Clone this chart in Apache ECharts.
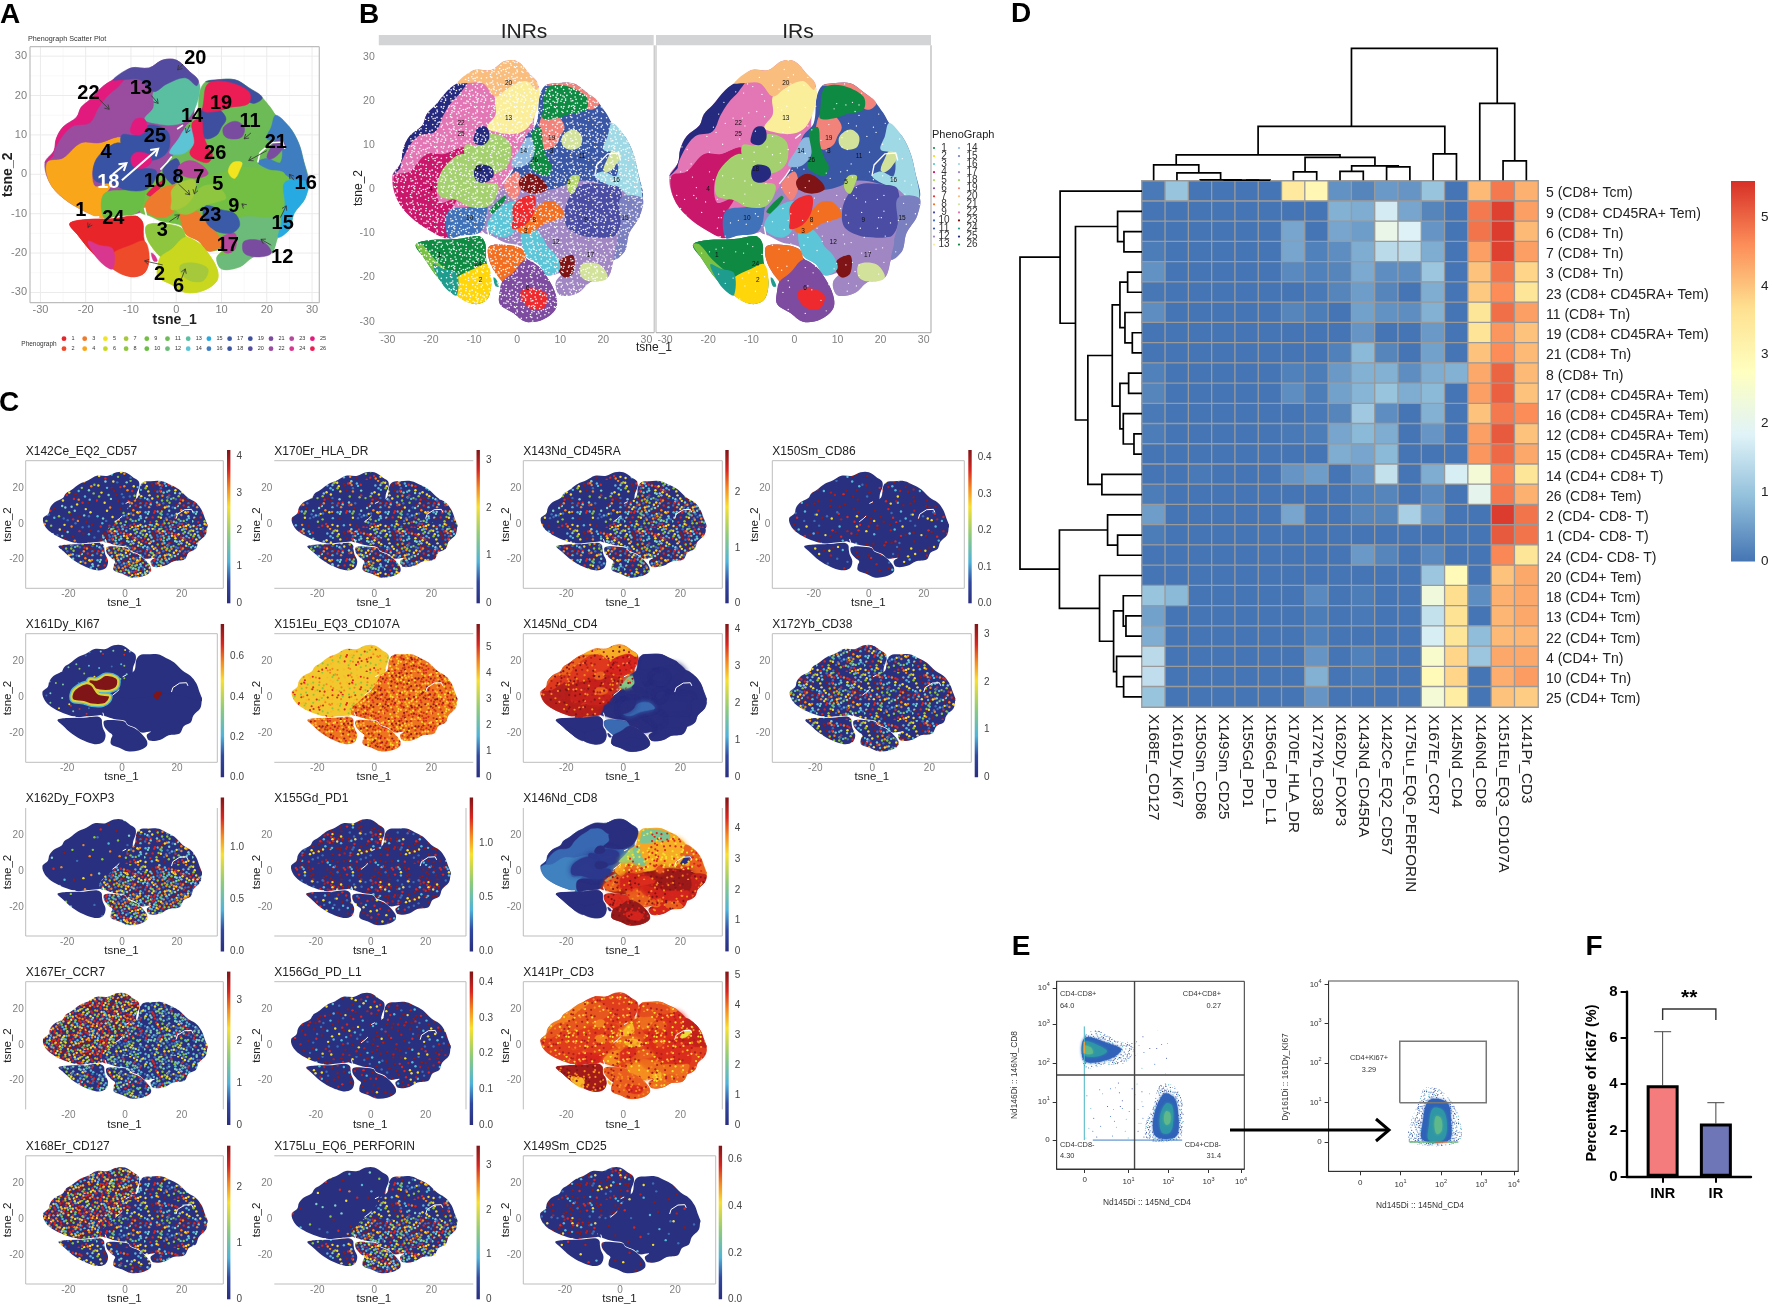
<!DOCTYPE html>
<html><head><meta charset="utf-8">
<style>html,body{margin:0;padding:0;background:#fff}#c{width:1772px;height:1307px}</style>
<script src="https://cdn.jsdelivr.net/npm/echarts@6/dist/echarts.min.js"></script>
</head><body><div id="c"></div>
<script>
// ---------- D: heatmap values
const markers=['X168Er_CD127','X161Dy_KI67','X150Sm_CD86','X149Sm_CD25','X155Gd_PD1','X156Gd_PD_L1','X170Er_HLA_DR','X172Yb_CD38','X162Dy_FOXP3','X143Nd_CD45RA','X142Ce_EQ2_CD57','X175Lu_EQ6_PERFORIN','X167Er_CCR7','X145Nd_CD4','X146Nd_CD8','X151Eu_EQ3_CD107A','X141Pr_CD3'];
const clusterIds=[5,9,6,7,3,23,11,19,21,8,17,16,12,15,14,26,2,1,24,20,18,13,22,4,10,25];
const rowLabels=['5 (CD8+ Tcm)','9 (CD8+ CD45RA+ Tem)','6 (CD8+ Tn)','7 (CD8+ Tn)','3 (CD8+ Tn)','23 (CD8+ CD45RA+ Tem)','11 (CD8+ Tn)','19 (CD8+ CD45RA+ Tem)','21 (CD8+ Tn)','8 (CD8+ Tn)','17 (CD8+ CD45RA+ Tem)','16 (CD8+ CD45RA+ Tem)','12 (CD8+ CD45RA+ Tem)','15 (CD8+ CD45RA+ Tem)','14 (CD4+ CD8+ T)','26 (CD8+ Tem)','2 (CD4- CD8- T)','1 (CD4- CD8- T)','24 (CD4- CD8- T)','20 (CD4+ Tem)','18 (CD4+ Tcm)','13 (CD4+ Tcm)','22 (CD4+ Tcm)','4 (CD4+ Tn)','10 (CD4+ Tn)','25 (CD4+ Tcm)'];
const heatRows=[
[.05,1.0,0,0,0,0,3.4,3.0,.35,.2,.45,.4,1.0,0,4.1,4.8,4.2],
[0,0,0,0,0,0,0,0,.75,.7,1.7,.6,.2,0,4.8,5.35,4.4],
[0,0,0,0,0,0,.6,0,.6,.5,2.1,1.8,.4,0,4.85,5.4,4.1],
[.1,0,0,0,0,0,.6,.15,.3,.7,1.4,1.4,.7,0,4.4,5.35,4.4],
[.35,0,0,0,0,0,.25,.15,.2,.65,.3,.3,1.05,0,4.0,4.85,3.8],
[.02,0,0,0,0,0,0,.05,.2,.5,.2,0,.7,0,3.95,4.6,3.5],
[.3,0,0,0,0,0,.2,.1,0,.55,.35,.3,.75,0,3.5,4.9,4.4],
[0,0,0,0,0,0,0,0,0,.4,0,0,.45,0,3.55,4.5,4.0],
[0,0,0,0,0,0,0,0,.15,.85,.2,0,.55,0,4.0,4.6,4.1],
[.15,0,0,0,0,0,.15,.1,.45,.75,.75,.3,.7,.75,4.3,5.0,4.1],
[.2,0,0,0,0,0,.3,.1,.55,.8,1.0,.7,.85,0,4.4,5.05,4.0],
[.05,0,0,0,0,0,0,.05,.2,1.1,.3,0,.75,0,4.0,4.8,4.6],
[.1,0,0,0,0,0,.05,.1,.6,.85,.7,0,.4,0,4.4,5.1,4.0],
[0,0,0,0,0,0,0,0,.7,.6,.85,0,0,0,4.5,4.95,4.3],
[0,0,.05,0,0,0,.4,.5,0,.4,1.5,0,.7,1.75,2.4,4.7,3.5],
[.1,0,0,0,0,0,0,0,0,.15,.2,0,.25,0,2.0,4.8,4.2],
[.5,0,0,0,0,0,.6,0,0,.2,.2,1.2,.4,0,0,5.4,4.85],
[.1,0,0,0,0,0,0,0,0,0,0,0,0,0,0,5.1,4.85],
[0,0,0,0,0,0,0,0,0,.45,.2,0,.25,0,0,4.65,3.5],
[0,0,0,0,0,0,0,0,0,0,0,0,1.05,2.9,0,4.0,4.3],
[1.0,.85,0,0,0,0,0,.25,0,.1,0,0,2.3,3.7,.3,4.2,4.3],
[.55,0,0,0,0,0,0,.1,0,.05,0,0,1.5,3.6,0,4.15,4.3],
[.7,0,0,0,0,0,0,.15,0,0,0,0,1.75,3.5,.9,4.1,4.15],
[1.4,0,0,0,0,0,0,.4,0,.15,.05,0,2.55,3.8,1.05,4.3,4.3],
[1.45,0,0,0,0,0,0,.75,0,.1,0,0,2.9,3.8,0,4.25,4.45],
[1.0,0,0,0,0,0,0,.4,0,0,0,0,2.4,3.3,0,4.0,3.9]];
// dendrograms: [a,b,height]; negative = leaf number, positive = earlier merge number
const colMerges=[[-7,-8,25],[-9,-10,27],[-11,-12,40],[2,3,43],[1,4,69],[-5,-6,.3],[-4,6,.6],[-3,7,1],[-2,8,22],[-1,9,46],[10,5,76],[-13,-14,79],[11,12,162],[-16,-17,58],[-15,14,231],[13,15,396]];
const rowMerges=[[-3,-4,54],[-2,1,73],[-5,-6,43],[-8,-9,29],[-7,4,51],[3,5,66],[-10,-11,40],[-13,-14,24],[-12,8,56],[7,9,66],[6,10,89],[-15,-16,120],[11,12,162],[2,13,199],[-1,14,245],[-18,-19,73],[-17,16,103],[-22,-23,48],[-21,18,56],[-25,-26,55],[-24,20,76],[19,21,85],[-20,22,127],[17,23,247],[15,24,365]];

// ---------- A/B: t-SNE cluster outlines, in tsne_1 / tsne_2 units
const lobes={
 left:[[-29,3],[-27,6],[-26.5,9],[-25,12],[-22,14.5],[-21,17],[-19,19],[-16,22.5],[-13,24.5],[-10,27],[-6,27],[-3,29],[0,29],[3,26],[4.8,24],[5,21],[4,16.5],[3.8,11.5],[3,8],[1,5],[-1,3],[-3,0],[-5,-3],[-6.5,-6],[-7,-9],[-9,-10],[-13,-10.5],[-16,-11],[-20,-9.5],[-25,-6],[-28,-2]],
 rightLow:[[-8,-9.5],[-8,-6],[-6,-3],[-3.5,.5],[-1,4],[8,2],[15,3.5],[24,2],[28.9,0],[29,-2],[28.5,-6],[26,-10],[25,-14],[22.5,-16],[21,-20],[17,-21],[14,-23.5],[10,-24],[9,-21],[10.5,-19],[7,-19.5],[5,-17],[2,-15],[1,-13],[-3,-12],[-6,-10.5]],
 rightUp:[[-2,2.5],[0,6],[2,12],[4.5,15],[5.2,21],[6.5,23.5],[9,24],[13,24],[16,22],[19,19.5],[22,15],[25,12],[27,8],[28,4],[29,-2],[24,0],[15,2],[8,0],[0,0]],
 centre:[[-6.5,-13],[-3,-12.6],[1,-13.5],[2,-15.5],[5,-17.5],[7,-20],[9,-24],[9,-27],[6,-29.5],[2,-30],[-1,-28],[-4,-26],[-4,-23],[-3.5,-21],[-5,-19],[-6.5,-16]],
 low:[[-23.5,-12.5],[-20,-11.5],[-14,-11.3],[-9,-10.6],[-7.5,-12],[-7.3,-14.5],[-7,-17],[-6,-21],[-7,-25],[-10,-26],[-14,-24],[-18,-20.5],[-22,-15]]
};
const shapes={
 c4:[[-28.5,3],[-25,4],[-21,8],[-17,8],[-13,9.5],[-11,9],[-10,8],[-14,4],[-18,3],[-18,-3],[-14,-2],[-16,-6],[-16,-11],[-20,-9.5],[-25,-6],[-28,-2]],
 c10:[[-16,-5],[-11,-4],[-7,-3.5],[-7,-5],[-7.5,-8],[-9,-10],[-13,-10.5],[-16,-11]],
 c25a:[[-29,3],[-27,6],[-26.5,9],[-25,12],[-22,14.5],[-21,17],[-19,19],[-16,22.5],[-13,24.5],[-11,25],[-13,22],[-16,18],[-19,13],[-23,11],[-26,6]],
 c22:[[-27,4.5],[-26,8],[-23,12],[-19,13],[-17,17],[-14,21],[-9,24],[-5,20],[-4.5,15],[-6,12.5],[-10,9.5],[-13,9.5],[-17,8],[-21,8],[-25,4.5]],
 c13:[[-5,21],[-2,23],[2,25],[5,23],[5,20],[4,16.5],[2,13.5],[-1,12.5],[-5,13],[-7,14],[-5,17]],
 c20:[[-14,24],[-10,27],[-6,27],[-3,29],[0,29],[3,26],[4.8,24],[4.5,22.5],[2,24.5],[-2,23],[-5,21],[-8,24],[-12,24]],
 c18a:[[-12,10],[-9,10],[-6,12.5],[-2,11],[-1.5,7],[-3,4.5],[-6,3.5],[-10,4.5],[-12,7]],
 c18b:[[-18,3],[-16,6],[-13,8],[-11,7],[-8.5,2],[-4.5,1],[-5,-2],[-7,-4],[-11,-4],[-14,-2.5],[-18,-1.5]],
 c25b:[[-10,12],[-9,14],[-7,14],[-6.5,11.5],[-8,10],[-10,10.5]],
 c25c:[[-10,4],[-9,5.5],[-6,5],[-5.5,3],[-7.5,1.5],[-9.5,2]],
 c14:[[-1.5,5.5],[.5,9],[2,11.5],[3.8,11.5],[4,8],[2,5.5],[0,5]],
 c11:[[13,17.5],[17,19],[20,18],[22,14],[21,11],[18,9],[17,6],[15,3],[12,3],[10,5],[8,7],[10,10],[10,14]],
 c19a:[[6,17],[8,18],[10,16],[11,14],[10,12],[9,10],[6.5,9],[5,11],[5,14]],
 c19b:[[6.5,23.5],[9,24],[13,24],[16,22],[19,19.5],[17,18],[14,20],[10,23]],
 c19c:[[-3,1],[0,4],[1,1],[0,-2],[-1,-2.5]],
 c26a:[[6,18],[7,23],[11,23.5],[16,21],[16,18],[12,17],[9,16],[6,16]],
 c26b:[[3.5,13],[5.5,14],[6,10],[7,7],[8,5],[7,3],[4,4],[3,5.5],[4,8]],
 c26c:[[-6.5,-5],[-3,-1.5],[-2.5,-2],[-5.5,-5.5]],
 c21a:[[10.5,12],[13,13.5],[15,12],[14.5,9.5],[12,9],[10.5,10]],
 c16:[[22,15],[25,12],[27,8],[28,4],[29,-2],[27.5,-3],[24,0],[21,1],[18,3],[20,4],[23,3],[23,8],[20,9],[21,12]],
 c21b:[[20,4.4],[21,7],[22,8.6],[24,7.8],[22.5,5],[20.8,3.8]],
 c9:[[15,1],[21,1],[24,0],[24,-8],[22,-11],[17,-11],[12,-9],[11,-6],[12,-2]],
 c15:[[24,-2],[29,-2],[28.5,-6],[26,-10],[25,-14],[22.5,-16],[23,-12],[24,-8]],
 c12:[[10,-14],[14,-11],[20,-11],[23,-11],[22.5,-15],[21,-20],[17,-21],[14,-23.5],[10,-24],[9,-21],[12,-20],[12,-17]],
 c21c:[[15,-17],[19,-17],[21,-20],[18,-21],[15,-20]],
 c23a:[[10,-16],[13,-15],[13,-19],[11,-20],[9.5,-18]],
 c23b:[[.5,2],[3,3.5],[6,2],[7,0],[4,-1],[1,0]],
 c17:[[6.5,-8],[10,-9],[13,-10],[14,-13],[12,-15],[8,-14],[6,-11]],
 c3a:[[-7,-8],[-5,-5],[-2,-3],[1,-3],[1,-6],[0,-8],[-1,-10],[-3,-11],[-6,-10]],
 c3b:[[1,-9],[4,-9],[6,-11],[7,-13],[9,-15],[10,-18],[7,-19.5],[5,-17],[2,-15]],
 c8a:[[-6.5,-13],[-3,-12.6],[1,-13.5],[2,-15.5],[1.5,-17],[-1,-19],[-3,-21],[-5,-19],[-6.5,-16]],
 c8b:[[0,-9],[3,-6],[6,-3],[9,-3],[11,-6],[9,-7],[6,-8],[3,-10],[1,-10]],
 c7a:[[-1,-4],[1,-2],[4,-1.5],[4,-5],[2,-8],[-1,-9],[-1,-6.5]],
 c5:[[11.5,1],[12.5,3],[14.5,3],[14,1],[13,-1],[12,-.5]],
 c6:[[-3.5,-21],[-1,-19],[2,-16],[5,-17.5],[7,-20],[9,-24],[9,-27],[6,-29.5],[2,-30],[-1,-28],[-4,-26],[-4,-23]],
 c7b:[[1,-23],[4,-22.5],[7,-24],[6,-27],[3,-27],[1,-25]],
 c1a:[[-23.5,-12.5],[-20,-11.5],[-14,-11.3],[-9,-10.6],[-7.5,-12],[-7.3,-14.5],[-8,-17],[-13,-19],[-17,-19],[-22,-15]],
 c1c:[[-23.5,-12.5],[-22,-12.5],[-19,-16],[-15,-19.5],[-14,-21],[-15,-23],[-18,-20.5],[-22,-15]],
 c2:[[-14,-20],[-10,-18],[-7,-17],[-6,-21],[-7,-25],[-10,-26],[-14,-24],[-14,-21.5]],
 c24a:[[-19.5,-17],[-17,-18],[-14,-19],[-14,-24],[-16,-23],[-18,-20.5]],
 c24b:[[-5.5,-20],[-4.8,-20.5],[-4.2,-22],[-5,-22]]
};
const softShapes=['c18a','c18b','c14','c19a','c19c','c11','c21a','c23b','c3a','c8b','c7a','c5','c17','c9','c3b'];
const gapRing=[[18,3],[18.5,5.5],[21,8],[23.5,8.2],[24,6.5]];
const slits=[[[-3.5,1.2],[-2,3],[-1,4.5]],[[.2,11.5],[1.5,12.5]],[[-7,-8.5],[-6.6,-10.5],[-6.9,-12.5]],[[-23,-11.3],[-17,-10.8]]];
const paletteA=['#E8262A','#EE4B2B','#EE7B2D','#FAA61A','#F2E51F','#C9D81F','#A5C93A','#8EC63F','#72BF44','#6ABD45','#6CBB56','#6DBB7B','#59BFA0','#5CC4D4','#27AAE1','#3E7DC0','#3B5BA9','#3953A4','#3F4FA0','#534BA0','#7A4CA0','#9A4C9F','#B6489C','#D9368F','#E31A7E','#EC1C54'];
const paletteB=['#0E8A43','#FFD60A','#5CC5D8','#C9186C','#B5D66C','#7D4BA0','#EE2A2E','#F26F21','#4A4DA3','#3F72B8','#3A57A6','#A086C2','#FBEE9A','#8DB8E0','#7A7FBF','#9FD9E5','#A086C2','#A5D06F','#F2837B','#F9BD7D','#D2E29B','#E377B5','#7E1416','#1E9C8E','#252A7E','#0E8A43'];
const baseA={left:'#9A4C9F',rightUp:'#6CBB56',rightLow:'#72BF44',centre:'#C9D81F',low:'#E8262A'};
const baseB={left:'#E377B5',rightUp:'#3A57A6',rightLow:'#A086C2',centre:'#7D4BA0',low:'#0E8A43'};
const lobeCluster={left:22,rightUp:11,rightLow:9,centre:6,low:1};
const labelsA=[['20',4.2,29.4],['13',-7.8,21.7],['22',-19.4,20.6],['19',9.9,18.1],['14',3.5,14.7],['11',16.3,13.5],['25',-4.7,9.6],['21',22,8],['26',8.6,5.4],['4',-15.5,5.5],['18',-15,-2.2,'#fff'],['10',-4.7,-1.9],['8',.4,-.9],['7',5,-.9],['5',9.2,-2.5],['16',28.6,-2.4],['9',12.7,-8.1],['23',7.5,-10.4],['1',-21.1,-9.3],['24',-13.9,-11.3],['15',23.5,-12.4],['3',-3.1,-14.2],['17',11.4,-18],['12',23.4,-21.2],['2',-3.7,-25.5],['6',.5,-28.6]];
const arrowsA=[[1.5,28,.3,26.5],[-17,19,-14.8,16.5],[-5.5,20,-4,18],[3,12.5,2.2,10.5],[16.5,10.5,15,9],[20,6,16,3.5],[.5,-2.5,3,-5.2],[4.5,-3,4,-5],[-1.5,-12,.7,-10.3],[15,-8,14.5,-7.5],[23,-11,24.3,-8],[21,-18,18.7,-16.5],[-19,-12.5,-19.5,-13.5],[-3,-23,-7,-22],[1,-27,2,-24],[26,-1.5,25,0]];
const whiteArrowsA=[[-12,-1.5,-4,6.5],[-14,0,-11,2.8]];
const labelsB=[['20',-2,24],['13',-2,16],['22',-13,15],['25',-13,12.5],['14',1.5,8.5],['19',8,11.5],['11',15,7.5],['26',4,6.5],['4',-20,0],['3',8,8.5],['16',23,2],['5',12,1.5],['10',-11,-6.5],['8',4,-7],['3',2,-9.5],['9',16,-7],['12',9,-12],['17',17,-15],['1',-18,-15],['24',-9,-17],['2',-8.5,-20.5],['6',2.5,-22.5],['15',25,-6.5],['18',-9,4.5]];

// ---------- C: colour-bar scales
const cTitles=['X142Ce_EQ2_CD57','X170Er_HLA_DR','X143Nd_CD45RA','X150Sm_CD86','X161Dy_KI67','X151Eu_EQ3_CD107A','X145Nd_CD4','X172Yb_CD38','X162Dy_FOXP3','X155Gd_PD1','X146Nd_CD8','X167Er_CCR7','X156Gd_PD_L1','X141Pr_CD3','X168Er_CD127','X175Lu_EQ6_PERFORIN','X149Sm_CD25'];
const cMax=[4.18,3.22,2.77,.42,.762,5.88,4.13,3.22,1.48,1.42,5.0,3.68,.43,5.11,2.75,3.44,.66];
const cTicks=[[0,1,2,3,4],[0,1,2,3],[0,1,2],[0,.1,.2,.3,.4],[0,.2,.4,.6],[0,1,2,3,4,5],[0,1,2,3,4],[0,1,2,3],[0,.5,1],[0,.5,1],[0,1,2,3,4],[0,1,2,3],[0,.1,.2,.3,.4],[0,1,2,3,4,5],[0,1,2],[0,1,2,3],[0,.2,.4,.6]];
const cDec=[0,0,0,1,1,0,0,0,1,1,0,0,1,0,0,0,1];
// share of speckled (expressing) cells per lobe: left,rightUp,rightLow,centre,low
const cSpeck=[[.2,.5,.85,1,.5],[.3,.45,.7,.75,.5],[.3,.7,.75,.7,.5],[.12,.15,.12,.12,.12],null,null,null,[.65,.5,.55,.55,.5],[.06,.5,.95,1,.03],[.35,.3,.35,.25,.25],null,[1,.75,.75,.7,.7],[.2,.2,.22,.2,.2],null,[.9,.5,.5,.4,.55],[.05,.4,.8,1,.4],[.3,.05,.05,.04,.04]];
// ---------- E / F
const ki67Groups=['INR','IR'];const ki67Mean=[3.95,2.3];const ki67Upper=[6.27,3.2];
const flowLeft={ul:[[[0,2.75],[.3,2.85],[.75,2.6],[1.2,2.4],[1,2],[.55,1.95],[0,1.9]],[[0,2.65],[.6,2.5],[.9,2.35],[.6,2.1],[0,2.05]],[[0,2.55],[.35,2.45],[.55,2.3],[.3,2.17],[0,2.2]],[[0,2.45],[.15,2.4],[.2,2.25],[0,2.25]]],
 lr:[[[1.85,1.43],[2.2,1.4],[2.42,.9],[2.4,.2],[2.3,0],[1.55,0],[1.5,.4],[1.7,.9]],[[1.95,1.2],[2.2,1.1],[2.3,.7],[2.25,.1],[1.75,.1],[1.7,.6]],[[2,.95],[2.15,.9],[2.18,.5],[2.1,.2],[1.9,.2],[1.85,.6]],[[2,.75],[2.1,.7],[2.1,.45],[2,.4],[1.95,.55]]]};
const flowRight=[[[1.6,1.36],[2.0,1.3],[2.43,.7],[2.43,0],[1.22,0],[1.25,.5],[1.45,1]],[[1.7,1.05],[2.15,1],[2.25,.5],[2.2,.05],[1.55,.05],[1.55,.5]],[[1.8,.85],[2.05,.8],[2.15,.4],[2.05,.05],[1.7,.05],[1.7,.4]],[[1.88,.65],[2,.6],[2.02,.3],[1.9,.2],[1.84,.4]]];

// ---------- helpers
const FONT='"Liberation Sans",Arial,sans-serif';
const grids=[],xAxes=[],yAxes=[],series=[],graphics=[];
const JET=[[0,'#2A2E7E'],[.14,'#2F47A0'],[.27,'#4FB3D9'],[.45,'#8FCB7A'],[.63,'#F8E02F'],[.75,'#F58A1F'],[.87,'#D9251E'],[1,'#7F1517']];
const HEAT=['#4575B4','#91BFDB','#E0F3F8','#FFFFBF','#FEE090','#FC8D59','#D73027'];
function hex(c){return [1,3,5].map(i=>parseInt(c.substr(i,2),16));}
function jet(t){t=Math.max(0,Math.min(1,t));for(let i=1;i<JET.length;i++){if(t<=JET[i][0]){const f=(t-JET[i-1][0])/(JET[i][0]-JET[i-1][0]),a=hex(JET[i-1][1]),b=hex(JET[i][1]);return 'rgb('+a.map((v,k)=>Math.round(v+(b[k]-v)*f)).join(',')+')';}}return JET[JET.length-1][1];}
function addGrid(l,t,w,h,xa,ya){const i=grids.length;grids.push({left:l,top:t,width:w,height:h,containLabel:false,show:false});xAxes.push(Object.assign({gridIndex:i},xa));yAxes.push(Object.assign({gridIndex:i},ya));return i;}
function renderOne(it,api){
 const P=p=>api.coord(p);
 if(it.k==='poly'){const st={fill:it.fill,stroke:it.stroke||(typeof it.fill==='string'?it.fill:'none'),lineWidth:it.lw==null?.5:it.lw};
  if(it.soft){st.shadowBlur=it.soft;st.shadowColor=it.fill;}
  return {type:'polygon',shape:{points:it.p.map(P),smooth:it.sm==null?.35:it.sm},style:st};}
 if(it.k==='line'){return {type:'polyline',shape:{points:it.p.map(P)},style:{fill:'none',stroke:it.c,lineWidth:it.w||1}};}
 if(it.k==='text'){const q=P([it.x,it.y]);return {type:'text',x:q[0],y:q[1],style:{text:it.t,fill:it.c||'#000',font:(it.b?'bold ':'')+it.s+'px '+FONT,align:'center',verticalAlign:'middle',textAlign:'center',textVerticalAlign:'middle'}};}
 if(it.k==='arrow'){const a=P(it.p[0]),b=P(it.p[1]),ang=Math.atan2(a[1]-b[1],a[0]-b[0]),L=it.h,S=.55;
  return {type:'group',children:[{type:'polyline',shape:{points:[a,b]},style:{fill:'none',stroke:it.c,lineWidth:it.w}},{type:'polyline',shape:{points:[[b[0]+L*Math.cos(ang+S),b[1]+L*Math.sin(ang+S)],b,[b[0]+L*Math.cos(ang-S),b[1]+L*Math.sin(ang-S)]]},style:{fill:'none',stroke:it.c,lineWidth:it.w}}]};}
}
function draw(g,items,z){series.push({type:'custom',coordinateSystem:'cartesian2d',xAxisIndex:g,yAxisIndex:g,silent:true,animation:false,clip:false,z:z||2,encode:{x:0,y:1},data:items.map(()=>[0,0]),renderItem:(p,api)=>renderOne(items[p.dataIndex],api)});}
function gText(x,y,t,o){o=o||{};graphics.push({type:'text',x:x,y:y,rotation:o.rot||0,z:50,silent:true,style:{text:t,fill:o.c||'#000',font:(o.b?'bold ':'')+(o.s||12)+'px '+FONT,align:o.a||'center',verticalAlign:'middle',textAlign:o.a||'center',textVerticalAlign:'middle'}});}
function gLine(pts,c,w){graphics.push({type:'polyline',z:50,silent:true,shape:{points:pts},style:{fill:'none',stroke:c,lineWidth:w}});}
function gDot(x,y,r,c){graphics.push({type:'circle',z:50,silent:true,shape:{cx:x,cy:y,r:r},style:{fill:c}});}
// texture standing in for the thousands of unreadable single-cell dots
const SPECKS=[[3,7],[12,2],[20,10],[27,3],[36,8],[44,1],[53,9],[58,4],[7,16],[16,19],[23,14],[33,18],[40,13],[49,20],[56,15],[1,26],[11,29],[19,24],[28,27],[35,22],[43,29],[51,25],[59,30],[5,36],[14,39],[24,33],[31,37],[39,34],[47,40],[55,35],[2,46],[10,43],[21,47],[29,44],[37,48],[45,46],[53,49],[60,44],[8,55],[17,58],[25,53],[33,57],[41,54],[49,59],[57,56],[4,21],[14,10],[31,9],[48,8],[9,49],[26,19],[43,21],[18,35],[35,42],[52,38],[6,59],[22,2],[39,3],[57,21],[13,52],[29,51],[46,52],[25,39],[41,27],[3,40],[50,32],[16,27],[34,30],[8,9],[59,52],[21,17],[46,14]];
const texCache={};
// quarter = side of one quadrant; the four quadrants re-use the list mirrored and swapped, so the repeat is less obvious
function tex(base,cols,d,size,quarter){
 size=size||2.4;quarter=quarter||24;
 while(d<=.25&&quarter<90){quarter*=2;d*=4;}
 const key=[base,cols.join(),d,size,quarter].join('|');if(texCache[key])return texCache[key];
 const tile=quarter*2,cv=document.createElement('canvas');cv.width=cv.height=tile;const x=cv.getContext('2d');
 if(base){x.fillStyle=base;x.fillRect(0,0,tile,tile);}
 const n=SPECKS.length,u=quarter/61;
 [[0,0,0],[1,0,1],[0,1,2],[1,1,3]].forEach(q=>{
  SPECKS.forEach((s,i)=>{
   const j=(i+q[2]*17)%n;
   if(((j*37)%n)/n>=d)return;
   let a=s[0]*u,b=s[1]*u;
   if(q[2]===1){const t=a;a=b;b=t;} else if(q[2]===2){a=quarter-a;} else if(q[2]===3){const t=a;a=quarter-b;b=t;}
   x.fillStyle=cols[((j*23)+q[2]*3)%cols.length];x.beginPath();x.arc(q[0]*quarter+a,q[1]*quarter+b,size/2,0,7);x.fill();
  });
 });
 return texCache[key]={image:cv,repeat:'repeat'};
}
const gridLinesFor=(xr,yr,major,minor)=>{const o=[];minor.forEach(v=>{o.push({k:'line',p:[[v,yr[0]],[v,yr[1]]],c:'#F5F5F5',w:.7});o.push({k:'line',p:[[xr[0],v],[xr[1],v]],c:'#F5F5F5',w:.7});});major.forEach(v=>{o.push({k:'line',p:[[v,yr[0]],[v,yr[1]]],c:'#EBEBEB',w:1});o.push({k:'line',p:[[xr[0],v],[xr[1],v]],c:'#EBEBEB',w:1});});return o;};
const boxLines=(xr,yr,e,c,w)=>{const o=[],a={t:[[xr[0],yr[1]],[xr[1],yr[1]]],b:[[xr[0],yr[0]],[xr[1],yr[0]]],l:[[xr[0],yr[0]],[xr[0],yr[1]]],r:[[xr[1],yr[0]],[xr[1],yr[1]]]};e.split('').forEach(k=>o.push({k:'line',p:a[k],c:c,w:w||1}));return o;};
function tsneAxis(range,vals,o){o=o||{};return {type:'value',min:range[0],max:range[1],splitLine:{show:false},axisLine:{show:false},axisTick:{show:false},
 name:o.name||'',nameLocation:'middle',nameGap:o.gap||8,nameRotate:o.rot,nameMoveOverlap:false,nameTextStyle:{fontFamily:FONT,fontSize:o.ns||11.5,fontWeight:o.nb?'bold':'normal',color:'#222'},
 axisLabel:{show:o.labels!==false,customValues:vals,margin:o.margin==null?1:o.margin,fontFamily:FONT,fontSize:o.ls||10,color:'#808080',hideOverlap:false,showMinLabel:true,showMaxLabel:true}};}
const addSlits=(it,w)=>{it.push({k:'line',p:gapRing,c:'#fff',w:w});slits.forEach(s=>it.push({k:'line',p:s,c:'#fff',w:w}));};

// ---------- Panel letters
[['A',10,15],['B',369,15],['C',9,403],['D',1021,14],['E',1021,947],['F',1594,947]].forEach(a=>gText(a[1],a[2],a[0],{b:1,s:28}));

// ---------- Panel A
(function(){
 const xr=[-32.3,31.6],yr=[-32.6,32.4],vals=[-30,-20,-10,0,10,20,30];
 const g=addGrid(27.3,46.7,292,256,tsneAxis(xr,vals,{name:'tsne_1',gap:10,ns:14,nb:1,ls:11,margin:2}),tsneAxis(yr,vals,{name:'tsne_2',gap:15,rot:90,ns:14,nb:1,ls:11,margin:3}));
 const it=gridLinesFor(xr,yr,vals,[-25,-15,-5,5,15,25]);
 Object.keys(lobes).forEach(k=>it.push({k:'poly',p:lobes[k],fill:baseA[k]}));
 Object.keys(shapes).forEach(k=>{it.push({k:'poly',p:shapes[k],fill:paletteA[parseInt(k.slice(1))-1]});});
 addSlits(it,1.6);
 it.push.apply(it,boxLines(xr,yr,'tblr','#BDBDBD',1.2));
 arrowsA.forEach(a=>it.push({k:'arrow',p:[[a[0],a[1]],[a[2],a[3]]],c:'#333',w:.8,h:5}));
 whiteArrowsA.forEach(a=>it.push({k:'arrow',p:[[a[0],a[1]],[a[2],a[3]]],c:'#fff',w:2,h:8}));
 labelsA.forEach(l=>it.push({k:'text',x:l[1],y:l[2],t:l[0],c:l[3]||'#000',s:20,b:1}));
 draw(g,it);
 gText(28,39,'Phenograph Scatter Plot',{a:'left',s:7.2,c:'#333'});
 gText(39,344,'Phenograph',{s:6.5,c:'#333'});
 paletteA.forEach((c,i)=>{const x=64+20.7*Math.floor(i/2),y=338.7+10*(i%2);gDot(x,y,2.4,c);gText(x+7.5,y,String(i+1),{s:5.5,a:'left',c:'#333'});});
})();

// ---------- Panel B
(function(){
 const yr=[-32.5,32.6],vals=[-30,-20,-10,0,10,20,30];
 const facets=[{l:378.8,w:275.4,xr:[-32.1,31.8],t:'INRs',cx:524,inr:1},{l:656,w:275,xr:[-32.1,31.7],t:'IRs',cx:798,inr:0}];
 facets.forEach((f,n)=>{
  const g=addGrid(f.l,45.3,f.w,287.4,tsneAxis(f.xr,vals,{ls:10.5,margin:2}),tsneAxis(yr,vals,{labels:n===0,ls:10.5,margin:4}));
  const fillOf=c=>f.inr?tex(c,['#ffffff'],.45,1.6,20):tex(c,['#ffffff'],.03,1.3,20);
  const it=[];
  Object.keys(lobes).forEach(k=>it.push({k:'poly',p:lobes[k],fill:fillOf(baseB[k]),lw:0}));
  Object.keys(shapes).forEach(k=>{let c=paletteB[parseInt(k.slice(1))-1];if(k==='c1c')c='#7AC143';it.push({k:'poly',p:shapes[k],fill:fillOf(c),lw:0});});
  addSlits(it,1.3);
  it.push.apply(it,boxLines(f.xr,yr,n===0?'b':'br','#B5B5B5',1.2));
  it.push({k:'line',p:[[f.xr[n?0:1],yr[0]],[f.xr[n?0:1],yr[1]]],c:'#B5B5B5',w:1});
  labelsB.forEach(l=>it.push({k:'text',x:l[1],y:l[2],t:l[0],s:6.5,c:'#111'}));
  draw(g,it);
  graphics.push({type:'rect',z:49,silent:true,shape:{x:f.l,y:35,width:f.w-(n?0:.5),height:10.3},style:{fill:'#D3D4D6'}});
  gText(f.cx,32,f.t,{s:21,c:'#222'});
 });
 gText(359,188,'tsne_2',{rot:Math.PI/2,s:12,c:'#222'});
 gText(654,348,'tsne_1',{s:12,c:'#222'});
 gText(932,135,'PhenoGraph',{a:'left',s:11,c:'#222'});
 paletteB.forEach((c,i)=>{const col=i<13?0:1,r=i%13,y=148+8.05*r;gDot(col?959:934,y,1.1,c);gText(col?972:944,y,String(i+1),{s:10,c:'#333'});});
})();

// ---------- Panel C
const cRows=[[460.7,588.3,450,603.3],[633.7,762.3,624,777.3],[808,936,797.5,951.4],[981.7,1109.4,971.6,1125],[1155.8,1284,1145.7,1299.3]];
const cLayout=[[0,25.7,223.3,227,'tblr'],[0,274.3,473.3,476.5,'tb'],[0,523.3,722.3,725.3,'tblr'],[0,772.3,964.3,968.3,'tblr'],
 [1,25.7,217.3,220.7,'tblr'],[1,274.3,473.3,476.5,'tb'],[1,523.3,722.3,725.3,'tblr'],[1,772.3,971.3,974.7,'tblr'],
 [2,25.7,217.3,220.7,'lbr'],[2,274.3,466,469.7,'br'],[2,523.3,722.3,725.3,'lbr'],
 [3,25.7,223.3,227,'tlr'],[3,274.3,466,469.7,'tr'],[3,523.3,722.3,725.3,'tlr'],
 [4,25.7,223.3,227,'tblr'],[4,274.3,473.3,476.5,'tb'],[4,523.3,715.7,718.7,'tblr']];
const NAVY='#28307F';
const MIX={full:['#F7DC2F','#D9251E','#55B9D6','#8CC63F','#F6841F','#3E6DB5','#8B1A1A','#7FCFC4'],
 red:['#8B1A1A','#B01E1E','#8B1A1A','#3E6DB5','#55B9D6','#F7DC2F','#D9251E','#8B1A1A'],
 warm:['#F6841F','#D9251E','#F7DC2F','#8CC63F','#8B1A1A','#FDB827','#55B9D6','#D9251E'],
 cool:['#55B9D6','#7CC7A0','#3E6DB5','#F7DC2F','#8CC63F','#3E6DB5','#D9251E','#7FCFC4']};
const cMix=['full','full','full','red',null,null,null,'full','full','red',null,'cool','red',null,'full','full','red'];
const cLeftMix={11:'warm',14:'warm'};
const LOBE_ORDER=['left','rightLow','rightUp','centre','low'];
const SPECK_IDX={left:0,rightUp:1,rightLow:2,centre:3,low:4};
const smoothCol={6:13,10:14,13:16};
const smoothOverride={10:{c21b:0,c21a:3.5},13:{c21b:3.1}};
const smoothGrain={6:{left:['#B01E1E','#F58A1F','#7F1517']},10:{rightLow:['#7F1517','#D9251E','#F58A1F'],rightUp:['#D9251E','#F8E02F'],centre:['#7F1517','#D9251E']},13:{left:['#B01E1E','#F8E02F','#F58A1F'],rightLow:['#B01E1E','#F8E02F','#F58A1F'],rightUp:['#B01E1E','#F8E02F','#F58A1F'],centre:['#B01E1E','#F58A1F'],low:['#7F1517','#F58A1F']}};
function cellVal(k,col){const id=parseInt(k.slice(1));return heatRows[clusterIds.indexOf(id)][col];}
cTitles.forEach((title,i)=>{
 const L=cLayout[i],R=cRows[L[0]],xr=[-35.1,34.7],yr=[-36.1,35.5];
 const g=addGrid(L[1],R[0],L[2]-L[1],R[1]-R[0],tsneAxis(xr,[-20,0,20],{name:'tsne_1',gap:9}),tsneAxis(yr,[-20,0,20],{name:'tsne_2',gap:11.5,rot:90,margin:2}));
 const it=[];
 if(cSpeck[i]){
  LOBE_ORDER.forEach(k=>{const d=cSpeck[i][SPECK_IDX[k]],m=(k==='left'&&cLeftMix[i])?cLeftMix[i]:cMix[i];it.push({k:'poly',p:lobes[k],fill:tex(NAVY,MIX[m],d),lw:0});});
 } else if(smoothCol[i]!=null){
  const col=smoothCol[i],ov=smoothOverride[i]||{};
  LOBE_ORDER.forEach(k=>it.push({k:'poly',p:lobes[k],fill:jet(heatRows[clusterIds.indexOf(lobeCluster[k])][col]/cMax[i])}));
  Object.keys(shapes).forEach(k=>{const v=ov[k]!=null?ov[k]:cellVal(k,col);it.push({k:'poly',p:shapes[k],fill:jet(v/cMax[i]),soft:softShapes.indexOf(k)>=0?5:0});});
  const gr=smoothGrain[i];Object.keys(gr).forEach(k=>it.push({k:'poly',p:lobes[k],fill:tex(null,gr[k],.35,2.2,22),lw:0}));
 } else if(i===4){
  LOBE_ORDER.forEach(k=>it.push({k:'poly',p:lobes[k],fill:k==='left'?tex(NAVY,MIX.cool,.1,2,24):NAVY,lw:0}));
  ['c18a','c18b'].forEach(k=>it.push({k:'poly',p:shapes[k],fill:'#4FB3D9',stroke:'#4FB3D9',lw:5}));
  ['c18a','c18b','c5'].forEach(k=>{const v=cellVal(k,1);it.push({k:'poly',p:shapes[k],fill:jet(v/cMax[i]),stroke:'#D9D23A',lw:k==='c5'?0:2.2});});
 } else {
  LOBE_ORDER.forEach(k=>it.push({k:'poly',p:lobes[k],lw:0,fill:k==='left'?tex('#F2C82E',['#F6841F','#D9251E','#FDB827','#8CC63F'],.45,2.1,24):tex('#EE7420',['#D9251E','#8B1A1A','#FDB827','#F7DC2F','#C9341C'],.8,2.2,24)}));
 }
 addSlits(it,1);
 it.push.apply(it,boxLines(xr,yr,L[4],'#BDBDBD',1));
 draw(g,it);
 gText(L[1],R[0]-9,title,{a:'left',s:12,c:'#222'});
 // colour bar
 const cb=addGrid(L[3],R[2],3.4,R[3]-R[2],{type:'category',show:false,data:['v']},{type:'value',min:0,max:cMax[i],position:'right',splitLine:{show:false},axisLine:{show:false},axisTick:{show:false},axisLabel:{customValues:cTicks[i],margin:6,fontFamily:FONT,fontSize:10,color:'#444',formatter:v=>Number(v).toFixed(cDec[i])}});
 series.push({type:'bar',xAxisIndex:cb,yAxisIndex:cb,silent:true,animation:false,barWidth:3.4,data:[cMax[i]],itemStyle:{color:{type:'linear',x:0,y:1,x2:0,y2:0,colorStops:JET.map(s=>({offset:s[0],color:s[1]}))}}});
});

// ---------- Panel D
(function(){
 const hg=addGrid(1142,181,396,526,
  {type:'category',data:markers,splitLine:{show:false},axisLine:{show:false},axisTick:{show:false},axisLabel:{interval:0,rotate:-90,margin:7,fontFamily:FONT,fontSize:15.2,color:'#222'}},
  {type:'category',data:rowLabels,inverse:true,position:'right',splitLine:{show:false},axisLine:{show:false},axisTick:{show:false},axisLabel:{interval:0,margin:8,fontFamily:FONT,fontSize:14,color:'#222',formatter:v=>'{a|'+v+'}',rich:{a:{fontFamily:FONT,fontSize:14,color:'#222',padding:[5,0,0,0]}}}});
 const cells=[];heatRows.forEach((r,y)=>r.forEach((v,x)=>cells.push([x,y,v])));
 series.push({type:'heatmap',xAxisIndex:hg,yAxisIndex:hg,silent:true,animation:false,data:cells,progressive:0,itemStyle:{borderColor:'#9A9A9A',borderWidth:1.3},emphasis:{disabled:true}});
 window.__heatSeries=series.length-1;
 function lines(merges,n,toPt){const nodes=[];const get=a=>a<0?{c:-a-.5,h:0}:nodes[a-1];const it=[];
  merges.forEach(m=>{const A=get(m[0]),B=get(m[1]);it.push({k:'line',p:[toPt(A.c,A.h),toPt(A.c,m[2]),toPt(B.c,m[2]),toPt(B.c,B.h)],c:'#000',w:1.7});nodes.push({c:(A.c+B.c)/2,h:m[2]});});return it;}
 const hidden={show:false,splitLine:{show:false}};
 const tg=addGrid(1142,48.3,396,132,Object.assign({type:'value',min:0,max:17},hidden),Object.assign({type:'value',min:0,max:396},hidden));
 draw(tg,lines(colMerges,17,(c,h)=>[c,h]));
 const lg=addGrid(1020,181,122,526,Object.assign({type:'value',min:0,max:365,inverse:true},hidden),Object.assign({type:'value',min:0,max:26,inverse:true},hidden));
 draw(lg,lines(rowMerges,26,(c,h)=>[h,c]));
 const max=5.52;
 const cb=addGrid(1731,181,24,380.6,{type:'category',show:false,data:['v']},{type:'value',min:0,max:max,position:'right',splitLine:{show:false},axisLine:{show:false},axisTick:{show:false},axisLabel:{customValues:[0,1,2,3,4,5],margin:6,fontFamily:FONT,fontSize:13.5,color:'#222'}});
 series.push({type:'bar',xAxisIndex:cb,yAxisIndex:cb,silent:true,animation:false,barWidth:24,data:[max],itemStyle:{color:{type:'linear',x:0,y:1,x2:0,y2:0,colorStops:HEAT.map((c,i)=>({offset:i/6,color:c}))}}});
})();

// ---------- Panel E
function flowAxis(range,majors,o){const lab=['0','10{s|1}','10{s|2}','10{s|3}','10{s|4}'];
 return {type:'value',min:range[0],max:range[1],splitLine:{show:false},axisLine:{onZero:false,lineStyle:{color:'#333',width:1}},axisTick:{length:4,lineStyle:{color:'#333',width:1},customValues:majors},
 axisLabel:{customValues:majors,margin:7,fontFamily:FONT,fontSize:8,color:'#333',showMinLabel:true,showMaxLabel:true,hideOverlap:false,formatter:v=>lab[majors.indexOf(v)]||'',rich:{s:{fontSize:5.5,verticalAlign:'top',lineHeight:12,fontFamily:FONT,color:'#333'}}}};}
const DENS=['#2C3E94','#2F62B8','#2F96A6','#5FB88A'];
const SPARSE=['#2C3E94','#3F74C4','#5BB6C9'];
(function(){
 const xr=[-.69,3.93],yr=[-.75,4.12];
 const g=addGrid(1056.7,981.3,187.6,187.7,flowAxis(xr,[0,1.08,2.06,3.05,3.85]),flowAxis(yr,[0,.99,2,3.01,3.95]));
 const it=[{k:'poly',sm:0,p:[[0,0],[1.2,0],[1.2,1.65],[0,1.65]],fill:tex(null,SPARSE,.12,1,30),lw:0},{k:'poly',sm:0,p:[[1.25,1.72],[2.15,1.72],[2.15,2.85],[1.25,2.85]],fill:tex(null,SPARSE,.08,1,30),lw:0},{k:'poly',sm:0,p:[[1.25,0],[1.6,0],[1.6,1.6],[1.25,1.6]],fill:tex(null,SPARSE,.15,1,30),lw:0},
  {k:'poly',sm:0,p:[[1,2.15],[1.3,2.1],[1.3,2.6],[1,2.6]],fill:tex(null,SPARSE,.3,1,24),lw:0}];
 ['ul','lr'].forEach(b=>flowLeft[b].forEach((p,n)=>it.push({k:'poly',p:p,fill:n===0?tex(null,SPARSE,.7,1.2,16):DENS[n],lw:0,soft:n?3:0})));
 it.push({k:'line',p:[[-.01,0],[-.01,2.95]],c:'#49B6C4',w:1});
 it.push({k:'line',p:[[-.01,2.25],[-.01,2.55]],c:'#E9A23B',w:1.5});
 it.push({k:'line',p:[[.2,0],[2.4,0]],c:'#3F7FC4',w:1});
 it.push({k:'line',p:[[1.227,yr[0]],[1.227,yr[1]]],c:'#444',w:1.4});
 it.push({k:'line',p:[[xr[0],1.69],[xr[1],1.69]],c:'#444',w:1.4});
 it.push.apply(it,boxLines(xr,yr,'trlb','#333',1));
 draw(g,it);
 [[1060,994,'CD4-CD8+','left'],[1060,1006,'64.0','left'],[1221,994,'CD4+CD8+','right'],[1221,1006,'0.27','right'],[1060,1145,'CD4-CD8-','left'],[1060,1156,'4.30','left'],[1221,1145,'CD4+CD8-','right'],[1221,1156,'31.4','right']].forEach(a=>gText(a[0],a[1],a[2],{a:a[3],s:7.4,c:'#333'}));
 gText(1015,1075,'Nd146Di :: 146Nd_CD8',{rot:Math.PI/2,s:8.4,c:'#333'});
 gText(1147,1203,'Nd145Di :: 145Nd_CD4',{s:8.4,c:'#333'});
})();
(function(){
 const xr=[-.78,3.91],yr=[-.74,4.07];
 const g=addGrid(1328.6,981,189.6,190.3,flowAxis(xr,[0,1,2,3,3.8]),flowAxis(yr,[0,1,2,3,3.98]));
 const it=[];
 flowRight.forEach((p,n)=>it.push({k:'poly',p:p,fill:n===0?tex(null,SPARSE,.7,1.2,16):DENS[n],lw:0,soft:n?3:0}));
 it.push({k:'line',p:[[1.22,0],[1.85,0]],c:'#5BB36A',w:1.3});it.push({k:'line',p:[[1.85,0],[2.15,0]],c:'#E0702B',w:1.3});it.push({k:'line',p:[[2.15,0],[2.43,0]],c:'#5BB36A',w:1.3});
 it.push({k:'line',p:[[.98,.99],[3.12,.99],[3.12,2.55],[.98,2.55],[.98,.99]],c:'#777',w:1.5});
 it.push.apply(it,boxLines(xr,yr,'lbr','#333',1));it.push.apply(it,boxLines(xr,yr,'t','#888',1.6));
 draw(g,it);
 gText(1369,1058,'CD4+Ki67+',{s:7.4,c:'#333'});gText(1369,1070,'3.29',{s:7.4,c:'#333'});
 gText(1286,1077,'Dy161Di :: 161Dy_KI67',{rot:Math.PI/2,s:8.4,c:'#333'});
 gText(1420,1206,'Nd145Di :: 145Nd_CD4',{s:8.4,c:'#333'});
 gLine([[1230,1130],[1388,1130]],'#000',3);gLine([[1376,1119],[1389,1130],[1376,1141]],'#000',3);
})();

// ---------- Panel F
(function(){
 const xa={type:'value',min:.323,max:2.66,splitLine:{show:false},axisLine:{onZero:false,lineStyle:{color:'#000',width:2.4}},axisTick:{customValues:[1,2],length:6,lineStyle:{color:'#000',width:2}},axisLabel:{customValues:[1,2],margin:10,fontFamily:FONT,fontSize:14.5,fontWeight:'bold',color:'#000',formatter:v=>ki67Groups[v-1]||''}};
 const ya={type:'value',min:0,max:8,interval:2,splitLine:{show:false},axisLine:{show:true,lineStyle:{color:'#000',width:2.4}},axisTick:{show:true,length:6,lineStyle:{color:'#000',width:2}},axisLabel:{margin:9,fontFamily:FONT,fontSize:15,fontWeight:'bold',color:'#000'}};
 const g=addGrid(1626.6,991.7,124.4,185,xa,ya);
 const err=[];ki67Mean.forEach((m,i)=>{const x=i+1;err.push({k:'line',p:[[x,m],[x,ki67Upper[i]]],c:'#444',w:1});err.push({k:'line',p:[[x-.16,ki67Upper[i]],[x+.16,ki67Upper[i]]],c:'#444',w:1});});
 draw(g,err,1);
 series.push({type:'bar',xAxisIndex:g,yAxisIndex:g,silent:true,animation:false,barWidth:32,z:3,data:ki67Mean.map((m,i)=>({value:[i+1,m],itemStyle:{color:['#F47C7C','#6E76B8'][i],borderColor:'#000',borderWidth:3}}))});
 draw(g,[{k:'line',p:[[1,6.78],[1,7.25],[2,7.25],[2,6.78]],c:'#333',w:1.4},{k:'text',x:1.5,y:7.72,t:'**',s:21,b:1}],4);
 gText(1592,1083,'Percentage of Ki67 (%)',{rot:Math.PI/2,b:1,s:14.5});
})();

const option={animation:false,backgroundColor:'#fff',grid:grids,xAxis:xAxes,yAxis:yAxes,series:series,graphic:{elements:graphics},
 visualMap:[{type:'continuous',show:false,min:0,max:5.52,seriesIndex:window.__heatSeries,dimension:2,inRange:{color:HEAT}}]};
const chart=echarts.init(document.getElementById('c'),null,{renderer:'canvas',width:1772,height:1307});
chart.setOption(option);
</script></body></html>
